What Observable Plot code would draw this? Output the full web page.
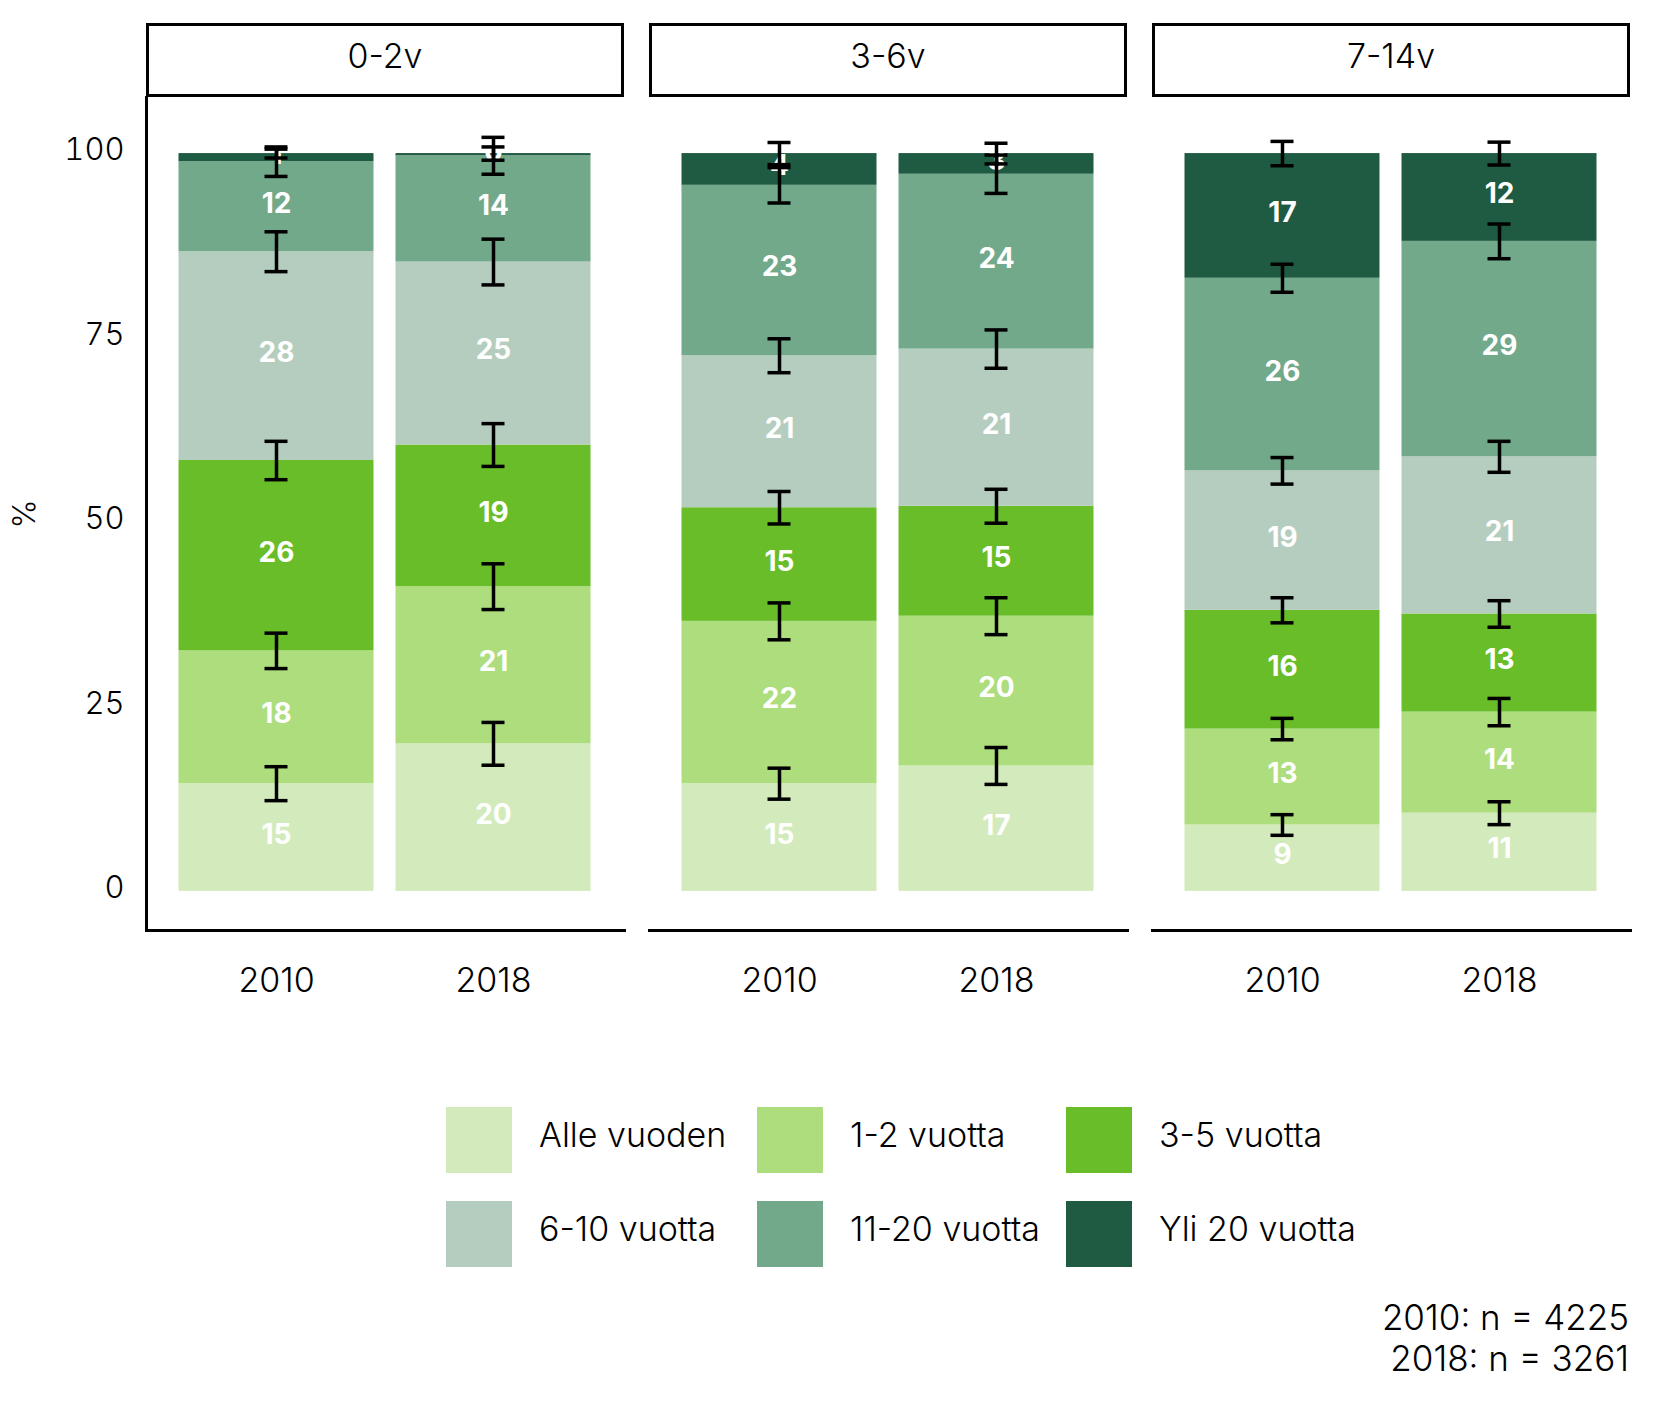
<!DOCTYPE html>
<html>
<head>
<meta charset="utf-8">
<script src="https://cdn.jsdelivr.net/npm/d3@7"></script>
<script src="https://cdn.jsdelivr.net/npm/@observablehq/plot@0.6"></script>
<style>
  html, body { margin: 0; padding: 0; background: #fff; }
  #wrap { position: relative; width: 1653px; height: 1417px; font-family: "Inter", "Lato", sans-serif; font-weight: 300; color: #000; }
  #chart { position: absolute; left: 0; top: 0; }
  .legend { position: absolute; left: 446px; top: 1107px; display: grid; grid-template-columns: 311px 309px 300px; grid-auto-rows: 94px; }
  .item { display: flex; align-items: flex-start; }
  .sw { width: 66px; height: 66px; flex: none; }
  .lab { margin-left: 27px; font-size: 34px; line-height: 56px; white-space: nowrap; }
  .caption { position: absolute; right: 24px; top: 1297px; text-align: right; font-size: 35px; line-height: 41px; }
</style>
</head>
<body>
<div id="wrap">
  <div id="chart"></div>
  <div class="legend" id="legend"></div>
  <div class="caption">2010: n = 4225<br>2018: n = 3261</div>
</div>
<script>
// ---- data ----
const ages = ["0-2v", "3-6v", "7-14v"];
const years = ["2010", "2018"];
const categories = ["Alle vuoden", "1-2 vuotta", "3-5 vuotta", "6-10 vuotta", "11-20 vuotta", "Yli 20 vuotta"];
const colors = ["#d3ebbc", "#addd7c", "#69bd28", "#b5cdbe", "#72a98a", "#1f5a42"];
const yTicks = [0, 25, 50, 75, 100];

// bar order: 0-2v 2010, 0-2v 2018, 3-6v 2010, 3-6v 2018, 7-14v 2010, 7-14v 2018
const barAge  = ["0-2v", "0-2v", "3-6v", "3-6v", "7-14v", "7-14v"];
const barYear = ["2010", "2018", "2010", "2018", "2010", "2018"];

// shares (%) per category
const alleVuoden = [14.6, 20.0, 14.6, 17.0, 9.0, 10.6];
const vuotta1_2  = [18.0, 21.3, 22.0, 20.3, 13.0, 13.7];
const vuotta3_5  = [25.8, 19.2, 15.4, 14.9, 16.1, 13.3];
const vuotta6_10 = [28.3, 24.8, 20.6, 21.3, 18.9, 21.3];
const vuotta11_20 = [12.2, 14.4, 23.1, 23.7, 26.1, 29.2];
const yli20      = [1.1, 0.3, 4.3, 2.8, 16.9, 11.9];

// error margins (± %) at the top of each segment
const moeAlle   = [2.3, 2.9, 2.1, 2.5, 1.4, 1.55];
const moe1_2    = [2.4, 3.1, 2.5, 2.5, 1.45, 1.85];
const moe3_5    = [2.6, 2.9, 2.2, 2.3, 1.7, 1.8];
const moe6_10   = [2.7, 3.1, 2.3, 2.6, 1.8, 2.1];
const moe11_20  = [2.0, 2.5, 2.4, 2.6, 1.9, 2.35];
const moeYli20  = [0.6, 0.9, 1.5, 1.4, 1.65, 1.55];

const series = [alleVuoden, vuotta1_2, vuotta3_5, vuotta6_10, vuotta11_20, yli20];
const moes = [moeAlle, moe1_2, moe3_5, moe6_10, moe11_20, moeYli20];

// ---- tables ----
const rows = [];
const errs = [];
barAge.forEach((age, b) => {
  let cum = 0;
  categories.forEach((cat, c) => {
    const v = series[c][b];
    rows.push({age, year: barYear[b], category: cat, value: v});
    cum += v;
    errs.push({age, year: barYear[b], lo: cum - moes[c][b], hi: cum + moes[c][b]});
  });
});

const FONT = '"Inter", "Lato", sans-serif';
const capInset = (196 - 24) / 2;

const plot = Plot.plot({
  width: 1653,
  height: 1020,
  marginLeft: 145.5,
  marginRight: 23,
  marginTop: 97,
  marginBottom: 90,
  style: {fontFamily: FONT, fontSize: "32px", fontWeight: 300, color: "#000", background: "white", overflow: "visible"},
  fx: {domain: ages, paddingInner: 0.05, paddingOuter: 0, axis: null, label: null},
  x: {domain: years, paddingInner: 0.1, paddingOuter: 0.15, label: null},
  y: {domain: [-5.3, 107.6], label: "%"},
  color: {domain: categories, range: colors},
  marks: [
    Plot.barY(rows, {fx: "age", x: "year", y: "value", z: "category", fill: "category", order: null}),
    Plot.text(rows, Plot.stackY({fx: "age", x: "year", y: "value", z: "category", order: null,
      text: d => String(Math.round(d.value)), fill: "white", fontWeight: 700, fontSize: 28, dy: -3})),
    Plot.ruleX(errs, {fx: "age", x: "year", y1: "lo", y2: "hi", stroke: "black", strokeWidth: 3.5}),
    Plot.tickY(errs, {fx: "age", x: "year", y: "lo", stroke: "black", strokeWidth: 3.5, insetLeft: capInset, insetRight: capInset}),
    Plot.tickY(errs, {fx: "age", x: "year", y: "hi", stroke: "black", strokeWidth: 3.5, insetLeft: capInset, insetRight: capInset}),
    Plot.axisX({tickSize: 0, tickPadding: 37, label: null, fontSize: 34}),
    Plot.axisY({ticks: yTicks, tickSize: 0, tickPadding: 22, fontSize: 31, dy: -3, label: "%", labelAnchor: "center", labelOffset: 134, labelArrow: "none"}),
    Plot.frame({anchor: "bottom", stroke: "black", strokeWidth: 3}),
    Plot.frame({anchor: "left", stroke: "black", strokeWidth: 3, facetAnchor: "left"})
  ]
});
document.getElementById("chart").appendChild(plot);

// facet strips (boxed labels) using the fx scale
const fx = plot.scale("fx");
const svg = d3.select(plot);
const strips = svg.append("g").attr("aria-label", "strips");
ages.forEach(a => {
  const x0 = fx.apply(a);
  const w = fx.bandwidth;
  strips.append("rect")
    .attr("x", x0 + 1.5).attr("y", 24.5).attr("width", w - 3).attr("height", 71)
    .attr("fill", "white").attr("stroke", "black").attr("stroke-width", 3);
  strips.append("text")
    .attr("x", x0 + w / 2).attr("y", 56).attr("text-anchor", "middle").attr("dy", "0.35em")
    .attr("font-size", 34).attr("font-weight", 300).attr("font-family", FONT).attr("fill", "black")
    .text(a);
});

// legend
const legend = document.getElementById("legend");
categories.forEach((c, i) => {
  const item = document.createElement("div");
  item.className = "item";
  const sw = document.createElement("div");
  sw.className = "sw";
  sw.style.background = colors[i];
  const lab = document.createElement("div");
  lab.className = "lab";
  lab.textContent = c;
  item.appendChild(sw);
  item.appendChild(lab);
  legend.appendChild(item);
});
</script>
</body>
</html>
